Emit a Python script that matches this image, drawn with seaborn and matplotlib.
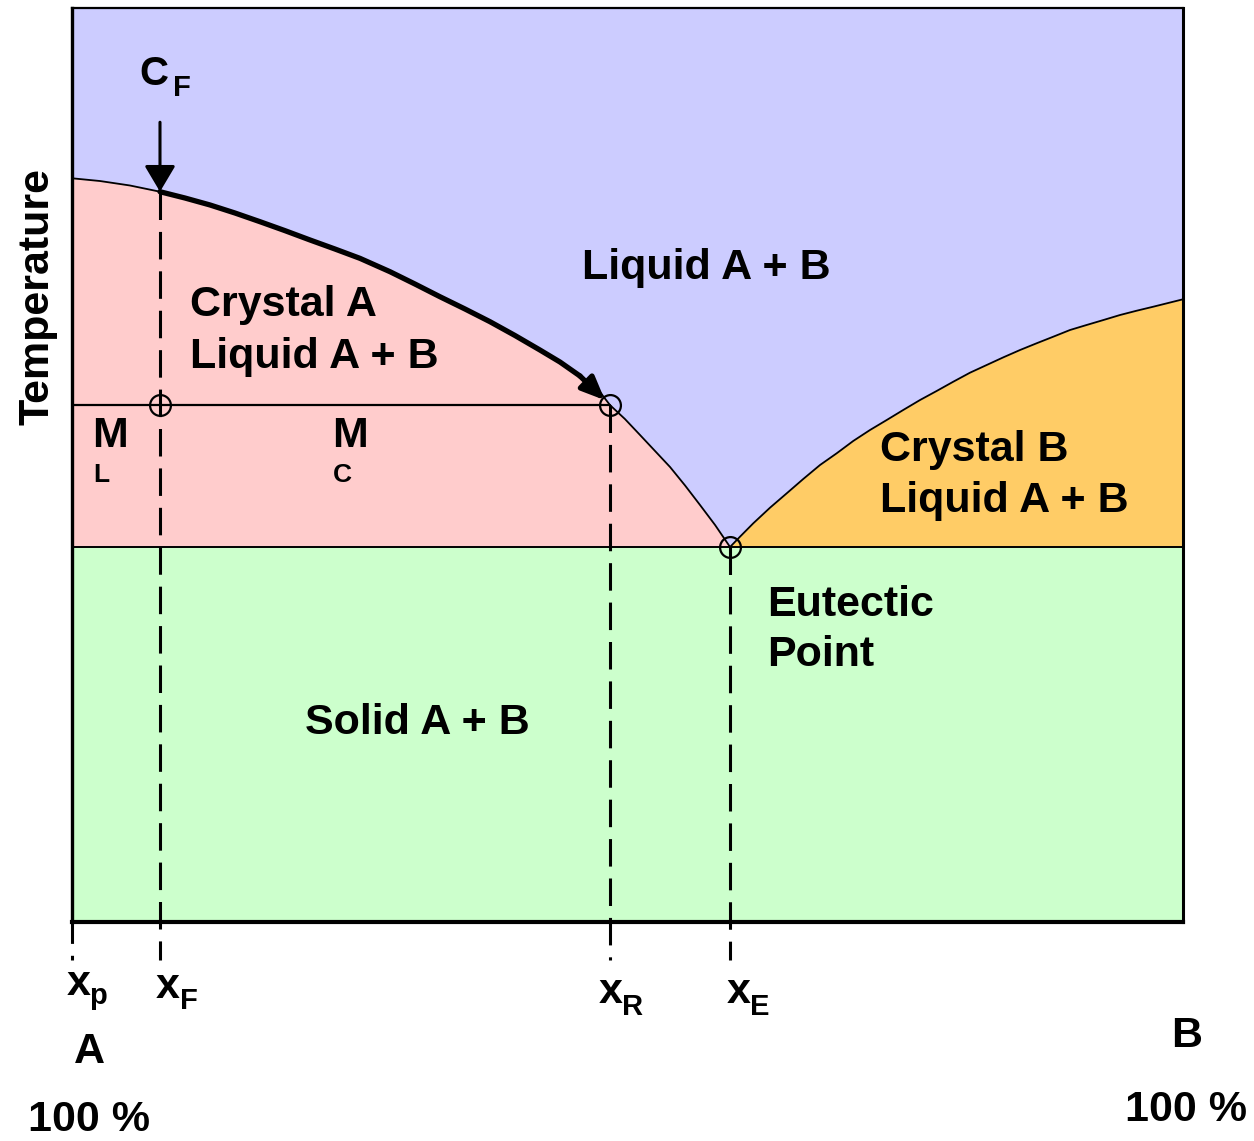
"""Binary eutectic phase diagram (A-B) with cooling path from C_F."""

import matplotlib

matplotlib.use("Agg")
import matplotlib.pyplot as plt
import seaborn as sns

sns.set_theme(style="white")
plt.rcParams["font.family"] = ["Liberation Sans", "DejaVu Sans"]
plt.rcParams["font.weight"] = "bold"

# composition of B in % (0 = pure A, 100 = pure B), temperature in arbitrary %
comp_liq_a = [0.0, 2.52, 5.22, 7.92, 10.17, 12.42, 14.67, 16.92, 19.17, 21.42,
              23.67, 25.92, 28.62, 30.87, 33.12, 35.37, 37.62, 39.87, 42.12,
              43.92, 45.72, 47.52, 48.42, 49.77, 51.13, 52.48, 53.83, 55.18,
              56.53, 57.88, 59.23]
temp_liq_a = [81.37, 81.07, 80.58, 79.90, 79.21, 78.45, 77.57, 76.62, 75.64,
              74.62, 73.63, 72.61, 71.15, 69.80, 68.41, 67.07, 65.68, 64.17,
              62.58, 61.27, 59.74, 57.99, 56.56, 55.03, 53.28, 51.53, 49.78,
              47.76, 45.62, 43.44, 41.03]

comp_liq_b = [59.23, 60.13, 61.32, 62.83, 64.33, 65.82, 67.33, 68.83, 70.32,
              71.83, 73.33, 74.82, 76.33, 77.83, 79.32, 80.83, 82.33, 83.83,
              85.33, 86.83, 88.33, 89.83, 91.33, 92.83, 94.33, 95.83, 97.33,
              100.0]
temp_liq_b = [41.03, 42.16, 43.62, 45.33, 46.90, 48.47, 50.00, 51.28, 52.63,
              53.83, 54.92, 56.02, 57.11, 58.10, 59.11, 60.10, 60.94, 61.78,
              62.58, 63.32, 64.04, 64.77, 65.32, 65.86, 66.41, 66.88, 67.32,
              68.13]

t_eutectic = 41.03
x_p, x_F, x_R, x_E = 0.0, 7.92, 48.42, 59.23
t_F = 79.90
t_M = 56.56
t_feed = 87.5
t_below = -4.2
path_end = 45.72

BLUE = "#CCCCFF"
PINK = "#FFCCCC"
ORANGE = "#FFCC66"
GREEN = "#CCFFCC"

fig = plt.figure(figsize=(12.54, 11.41), dpi=100)
ax = fig.add_axes([72 / 1254, 219 / 1141, 1111 / 1254, 914 / 1141])
ax.set_xlim(0, 100)
ax.set_ylim(0, 100)
ax.set_facecolor(BLUE)
ax.set_xticks([])
ax.set_yticks([])
for side, lw in {"left": 2.4, "bottom": 3.0, "top": 1.6, "right": 2.2}.items():
    ax.spines[side].set_visible(True)
    ax.spines[side].set_color("black")
    ax.spines[side].set_linewidth(lw)

# phase regions
ax.fill_between(comp_liq_a, temp_liq_a, t_eutectic, color=PINK, lw=0, zorder=1)
ax.fill_between(comp_liq_b, temp_liq_b, t_eutectic, color=ORANGE, lw=0, zorder=1)
ax.fill_between([0, 100], [t_eutectic, t_eutectic], 0, color=GREEN, lw=0, zorder=1)

# phase boundaries
sns.lineplot(x=comp_liq_a, y=temp_liq_a, ax=ax, color="black", lw=1.3, zorder=3)
sns.lineplot(x=comp_liq_b, y=temp_liq_b, ax=ax, color="black", lw=1.3, zorder=3)
ax.plot([0, 100], [t_eutectic, t_eutectic], color="black", lw=1.4, zorder=3)
ax.plot([0, x_R], [t_M, t_M], color="black", lw=1.6, zorder=3)

# cooling path along liquidus
path_c = [c for c in comp_liq_a if x_F <= c <= path_end]
path_t = [t for c, t in zip(comp_liq_a, temp_liq_a) if x_F <= c <= path_end]
sns.lineplot(x=path_c, y=path_t, ax=ax, color="black", lw=3.8, zorder=4)
ax.annotate("", xy=(x_R, t_M), xytext=(path_c[-1], path_t[-1]),
            arrowprops=dict(arrowstyle="-|>,head_length=1.4,head_width=0.6",
                            mutation_scale=10, color="black", lw=3.8,
                            shrinkA=0, shrinkB=5), zorder=4)

# feed arrow
ax.annotate("", xy=(x_F, t_F), xytext=(x_F, t_feed),
            arrowprops=dict(arrowstyle="-|>,head_length=1.6,head_width=0.95",
                            mutation_scale=10, color="black", lw=2.2,
                            shrinkA=0, shrinkB=0), zorder=5, annotation_clip=False)

# dashed composition guides
dash = (0, (9.0, 3.9))
for xc, top in [(x_F, t_F), (x_R, t_M), (x_E, t_eutectic)]:
    ax.plot([xc, xc], [top, t_below], color="black", lw=2.2, ls=dash,
            zorder=4, clip_on=False)
ax.plot([x_p, x_p], [0, t_below], color="black", lw=2.2, ls=(0, (7.0, 3.9)),
        zorder=4, clip_on=False)

# open circles
ax.plot([x_F, x_R, x_E], [t_M, t_M, t_eutectic], ls="none", marker="o", ms=15,
        mfc="none", mec="black", mew=1.6, zorder=6)

big = 31
small = 21
tiny = 19
kw = dict(fontweight="bold", color="black", va="baseline", zorder=7)

ax.text(45.9, 70.35, "Liquid A + B", fontsize=big, **kw)
ax.text(10.6, 66.3, "Crystal A", fontsize=big, **kw)
ax.text(10.6, 60.6, "Liquid A + B", fontsize=big, **kw)
ax.text(72.7, 50.4, "Crystal B", fontsize=big, **kw)
ax.text(72.7, 44.9, "Liquid A + B", fontsize=big, **kw)
ax.text(62.6, 33.5, "Eutectic", fontsize=big, **kw)
ax.text(62.6, 28.0, "Point", fontsize=big, **kw)
ax.text(21.0, 20.6, "Solid A + B", fontsize=big, **kw)

ax.text(1.8, 52.0, "M", fontsize=big, **kw)
ax.text(1.9, 48.1, "L", fontsize=tiny, **kw)
ax.text(23.4, 52.0, "M", fontsize=big, **kw)
ax.text(23.5, 48.1, "C", fontsize=tiny, **kw)

ax.text(6.1, 91.6, "C", fontsize=29, **kw)
ax.text(9.1, 90.4, "F", fontsize=small, **kw)

out_kw = dict(kw, clip_on=False)
for (bx, by, base), (sx, sy, sub) in [
    ((-0.45, -8.0, "x"), (1.53, -8.97, "p")),
    ((7.56, -8.3, "x"), (9.72, -9.5, "F")),
    ((47.4, -8.86, "x"), (49.5, -10.2, "R")),
    ((58.96, -8.86, "x"), (61.0, -10.2, "E")),
]:
    ax.text(bx, by, base, fontsize=big, **out_kw)
    ax.text(sx, sy, sub, fontsize=small, **out_kw)

ax.text(1.53, -15.4, "A", fontsize=big, ha="center", **out_kw)
ax.text(1.53, -22.9, "100 %", fontsize=big, ha="center", **out_kw)
ax.text(100.3, -13.7, "B", fontsize=big, ha="center", **out_kw)
ax.text(100.3, -21.8, "100 %", fontsize=big, ha="center", **out_kw)

ax.text(-3.15, 68.4, "Temperature", fontsize=big, rotation=90, ha="center",
        va="center", fontweight="bold", color="black", clip_on=False)

fig.savefig("out.png", dpi=100)
plt.close(fig)
